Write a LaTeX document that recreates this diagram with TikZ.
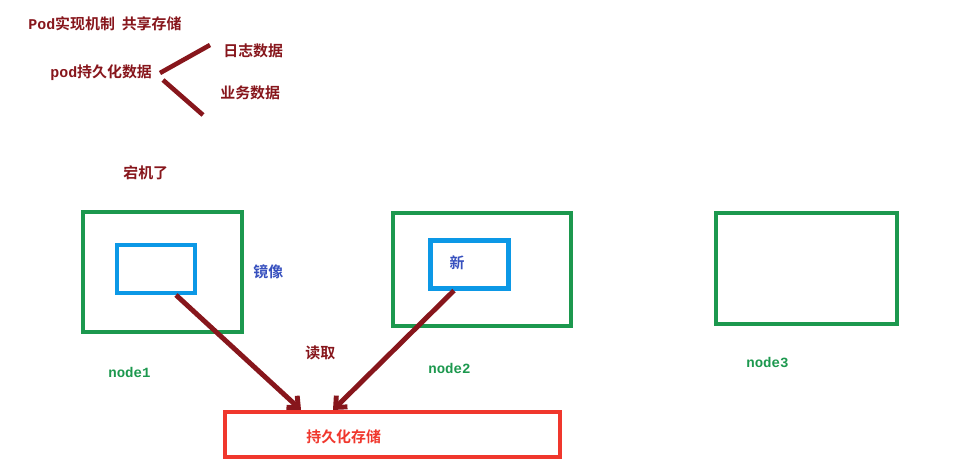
\documentclass[tikz,border=0pt]{standalone}
\usepackage{fontspec}
\newfontfamily\cjk{Noto Sans CJK SC}[BoldFont={Noto Sans CJK SC Bold}]
\newfontfamily\mono{Liberation Mono}
\usetikzlibrary{arrows.meta}

\definecolor{podred}{RGB}{135,22,28}
\definecolor{nodegreen}{RGB}{28,152,78}
\definecolor{imgblue}{RGB}{12,152,230}
\definecolor{txtblue}{RGB}{55,80,190}
\definecolor{storered}{RGB}{240,55,45}

\tikzset{
  note/.style = {anchor=west, inner sep=0pt, text=podred, font=\cjk\bfseries\fontsize{8.5}{10}\selectfont},
  nodename/.style = {anchor=west, inner sep=0pt, text=nodegreen, font=\mono\bfseries\fontsize{8}{10}\selectfont},
  hostbox/.style = {draw=nodegreen, line width=2.3pt, inner sep=0pt},
  imgbox/.style = {draw=imgblue, line width=2.3pt, inner sep=0pt, minimum width=1.56cm, minimum height=0.96cm},
  branch/.style = {draw=podred, line width=2.6pt},
  readline/.style = {draw=podred, line width=2.8pt, -{Straight Barb[length=5pt, width=9pt]}}
}

\begin{document}
\begin{tikzpicture}[x = 0.02cm, y = -0.02cm]
      \useasboundingbox (0,0) rectangle (961,467);

      % title and notes
      \node[note] (title) at (28,24) {{\mono Pod}实现机制 \ 共享存储};
      \node[note] (persist) at (50,73) {{\mono pod}持久化数据};
      \node[note] (logdata) at (223,51) {日志数据};
      \node[note] (bizdata) at (220,93) {业务数据};
      \coordinate (upstart) at (160,73);
      \coordinate (upend) at (210,45);
      \coordinate (downstart) at (163,80);
      \coordinate (downend) at (203,115);
      \draw[branch] (upstart) -- (upend);
      \draw[branch] (downstart) -- (downend);
      \node[note] (down) at (123,173) {宕机了};

      % hosts
      \node[hostbox, minimum width=3.18cm, minimum height=2.4cm] (host1) at (162.5,272) {};
      \node[hostbox, minimum width=3.56cm, minimum height=2.26cm] (host2) at (482,269.5) {};
      \node[hostbox, minimum width=3.62cm, minimum height=2.22cm] (host3) at (806.5,268.5) {};
      \node[imgbox] (img1) at (156,269) {};
      \node[imgbox] (img2) at (469.5,264.5) {};
      \node[anchor=center, inner sep=0pt, text=txtblue, font=\cjk\bfseries\fontsize{8.5}{10}\selectfont] (newimg) at (457,263) {新};
      \node[note, text=txtblue] (imglabel) at (253,272) {镜像};
      \node[nodename] (name1) at (108,372) {node1};
      \node[nodename] (name2) at (428,368) {node2};
      \node[nodename] (name3) at (746,362) {node3};

      % storage
      \node[draw=storered, line width=2.3pt, minimum width=6.7cm, minimum height=0.9cm, inner sep=0pt] (store) at (392.5,434.5) {};
      \node[note, text=storered] (storelabel) at (306,437) {持久化存储};
      \node[note] (read) at (305,353) {读取};
      \draw[readline] ([xshift=0.4cm]img1.south) -- ([xshift=-1.83cm]store.north);
      \draw[readline] ([xshift=-0.31cm]img2.south) -- ([xshift=-1.19cm]store.north);
    \end{tikzpicture}
\end{document}
